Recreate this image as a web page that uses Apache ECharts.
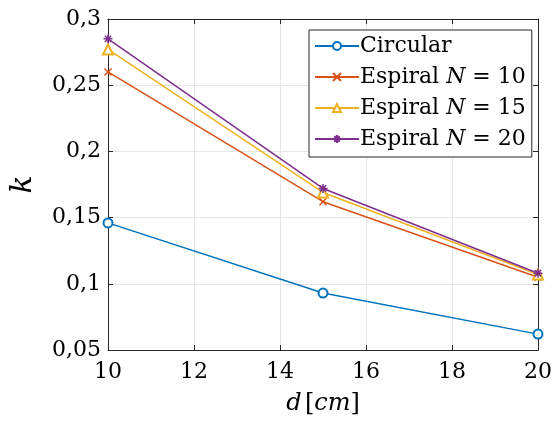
<!DOCTYPE html>
<html>
<head>
<meta charset="utf-8">
<script src="https://cdn.jsdelivr.net/npm/echarts@6/dist/echarts.min.js"></script>
<style>
  html, body { margin: 0; padding: 0; background: #fff; }
  #chart { width: 555px; height: 426px; }
</style>
</head>
<body>
<div id="chart"></div>
<script>
// Coupling coefficient k versus distance d
const distances = [10, 15, 20];
const circular = [0.146, 0.093, 0.062];
const espiral10 = [0.260, 0.162, 0.105];
const espiral15 = [0.277, 0.169, 0.107];
const espiral20 = [0.285, 0.172, 0.108];
const xTicks = [10, 12, 14, 16, 18, 20];
const yTicks = [0.05, 0.1, 0.15, 0.2, 0.25, 0.3];

const seriesNames = ['Circular', 'Espiral N = 10', 'Espiral N = 15', 'Espiral N = 20'];
const colors = ['#0072BD', '#D95319', '#EDB120', '#7E2F8E'];

const FONT = 'DejaVu Serif';
const AX = '#262626';

const crossPath = 'path://M0,0L10,10M10,0L0,10';
const starPath = 'path://M5,0L5,10M0,5L10,5M1.5,1.5L8.5,8.5M8.5,1.5L1.5,8.5';

function fmt(v) {
  return String(+(+v).toFixed(2)).replace('.', ',');
}

function pairs(vals) {
  return distances.map((d, i) => [d, vals[i]]);
}

function mk(name, vals, color, symbol, size) {
  return {
    name: name,
    type: 'line',
    data: pairs(vals),
    symbol: symbol,
    symbolSize: size,
    showSymbol: true,
    lineStyle: { color: color, width: 1.5 },
    itemStyle: { color: color, borderColor: color, borderWidth: 1.5 },
    emphasis: { disabled: true },
    z: 3
  };
}

const chart = echarts.init(document.getElementById('chart'), null, { renderer: 'canvas' });

const baseAxis = {
  axisLine: { show: true, lineStyle: { color: AX, width: 1 } },
  axisTick: { show: true, inside: true, length: 5, lineStyle: { color: AX } },
};

chart.setOption({
  animation: false,
  backgroundColor: '#fff',
  grid: { left: 107, right: 12, top: 19, bottom: 76, containLabel: false },
  legend: {
    orient: 'vertical',
    left: 309,
    top: 30,
    padding: [5, 6, 7, 5],
    itemWidth: 44,
    itemHeight: 10,
    itemGap: 9,
    backgroundColor: '#fff',
    borderColor: AX,
    borderWidth: 1,
    borderRadius: 0,
    selectedMode: false,
    data: seriesNames,
    formatter: function (name) {
      if (name === 'Circular') return '{r|Circular}';
      const n = name.split('= ')[1];
      return '{r|Espiral }{i|N}{r| = ' + n + '}';
    },
    textStyle: {
      fontFamily: FONT,
      fontSize: 22,
      color: '#000',
      padding: [0, 0, 0, -4],
      rich: {
        r: { fontFamily: FONT, fontSize: 22, lineHeight: 22, color: '#000' },
        i: { fontFamily: FONT, fontSize: 22, lineHeight: 22, fontStyle: 'italic', color: '#000' }
      }
    }
  },
  xAxis: [{
    ...baseAxis,
    type: 'value',
    min: 10, max: 20, interval: 2,
    position: 'bottom',
    splitLine: { show: true, lineStyle: { color: '#e6e6e6', width: 1 } },
    axisLabel: {
      fontFamily: FONT, fontSize: 22, color: '#000', margin: 11,
      formatter: v => xTicks.includes(v) ? String(v) : ''
    },
    name: '{i|d} {r|[}{i|cm}{r|]}',
    nameLocation: 'middle',
    nameGap: 42,
    nameTextStyle: {
      rich: {
        i: { fontFamily: FONT, fontSize: 24, fontStyle: 'italic', color: '#000' },
        r: { fontFamily: FONT, fontSize: 24, color: '#000' }
      }
    }
  }, {
    ...baseAxis,
    type: 'value',
    min: 10, max: 20, interval: 2,
    position: 'top',
    splitLine: { show: false },
    axisLabel: { show: false }
  }],
  yAxis: [{
    ...baseAxis,
    type: 'value',
    min: 0.05, max: 0.3, interval: 0.05,
    position: 'left',
    splitLine: { show: true, lineStyle: { color: '#e6e6e6', width: 1 } },
    axisLabel: {
      fontFamily: FONT, fontSize: 22, color: '#000', margin: 7,
      formatter: v => yTicks.some(t => Math.abs(t - v) < 1e-9) ? fmt(v) : ''
    },
    name: 'k',
    nameLocation: 'middle',
    nameGap: 70,
    nameRotate: 90,
    nameTextStyle: { fontFamily: FONT, fontSize: 30, fontStyle: 'italic', color: '#000' }
  }, {
    ...baseAxis,
    type: 'value',
    min: 0.05, max: 0.3, interval: 0.05,
    position: 'right',
    splitLine: { show: false },
    axisLabel: { show: false }
  }],
  series: [
    mk(seriesNames[0], circular, colors[0], 'emptyCircle', 9),
    mk(seriesNames[1], espiral10, colors[1], crossPath, 7),
    mk(seriesNames[2], espiral15, colors[2], 'emptyTriangle', 10),
    mk(seriesNames[3], espiral20, colors[3], starPath, 9)
  ]
});
</script>
</body>
</html>
